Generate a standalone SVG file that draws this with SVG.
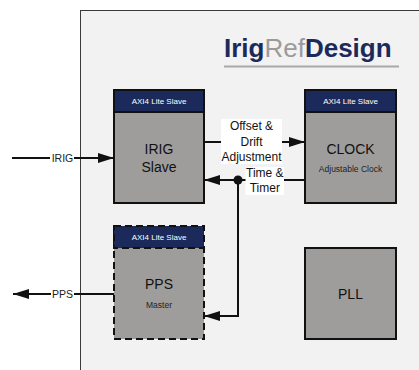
<svg xmlns="http://www.w3.org/2000/svg" width="419" height="370" viewBox="0 0 419 370">
  <style>
    .body { fill: #9e9d9b; stroke: #111; stroke-width: 2; }
    .hdr { fill: #1b2a5b; stroke: #111; stroke-width: 2; }
    .dash { stroke-dasharray: 7 4; }
    .hdrtxt { font-family: "Liberation Sans", Arial, sans-serif; font-size: 8px; fill: #ffffff; text-anchor: middle; }
    .big { font-family: "Liberation Sans", Arial, sans-serif; font-size: 14px; fill: #111; text-anchor: middle; }
    .small { font-family: "Liberation Sans", Arial, sans-serif; font-size: 8.5px; fill: #222; text-anchor: middle; }
    .lbl { font-family: "Liberation Sans", Arial, sans-serif; font-size: 12px; fill: #111; text-anchor: middle; }
    .ext { font-family: "Liberation Sans", Arial, sans-serif; font-size: 10.5px; fill: #222; text-anchor: middle; }
    .wire { fill: none; stroke: #111; stroke-width: 2; }
  </style>
  <defs>
    <marker id="arrow" viewBox="0 0 16 10" refX="16" refY="5" markerWidth="16" markerHeight="10" markerUnits="userSpaceOnUse" orient="auto">
      <path d="M0,0 L16,5 L0,10 z" fill="#111"/>
    </marker>
  </defs>

  <rect x="0" y="0" width="419" height="370" fill="#ffffff"/>

  <g id="outer">
    <rect x="80.5" y="10.5" width="400" height="400" fill="#f2f2f2" stroke="#3a3a3a" stroke-width="1"/>
  </g>

  <g id="logo">
    <text x="224" y="57" font-family="Liberation Sans, Arial, sans-serif" font-size="26px"><tspan font-weight="bold" fill="#1b2a5b">Irig</tspan><tspan fill="#9b9b9b">Ref</tspan><tspan font-weight="bold" fill="#1b2a5b">Design</tspan></text>
    <rect x="224" y="65.5" width="175" height="2" fill="#a8a8a8"/>
  </g>

  <g id="irig-slave">
    <rect class="body" x="114" y="90" width="90" height="113"/>
    <rect class="hdr" x="114" y="90" width="90" height="22"/>
    <text class="hdrtxt" x="159" y="104">AXI4 Lite Slave</text>
    <text class="big" x="159" y="154">IRIG</text>
    <text class="big" x="159" y="172">Slave</text>
  </g>

  <g id="clock">
    <rect class="body" x="305" y="90" width="91" height="113"/>
    <rect class="hdr" x="305" y="90" width="91" height="22"/>
    <text class="hdrtxt" x="350.5" y="104">AXI4 Lite Slave</text>
    <text class="big" x="350.5" y="154">CLOCK</text>
    <text class="small" x="350.5" y="171.5">Adjustable Clock</text>
  </g>

  <g id="pps-master">
    <rect class="body dash" x="114" y="226" width="90" height="113"/>
    <rect class="hdr dash" x="114" y="226" width="90" height="22"/>
    <text class="hdrtxt" x="159" y="240">AXI4 Lite Slave</text>
    <text class="big" x="159" y="289">PPS</text>
    <text class="small" x="159" y="308">Master</text>
  </g>

  <g id="pll">
    <rect class="body" x="305" y="248" width="91" height="91"/>
    <text class="big" x="350.5" y="299">PLL</text>
  </g>

  <g id="connectors">
    <line class="wire" x1="204" y1="142" x2="305" y2="142" marker-end="url(#arrow)"/>
    <rect x="221" y="119" width="61" height="45" fill="#ffffff"/>
    <text class="lbl" x="251.5" y="130">Offset &amp;</text>
    <text class="lbl" x="251.5" y="145.5">Drift</text>
    <text class="lbl" x="251.5" y="161">Adjustment</text>

    <line class="wire" x1="305" y1="180" x2="204" y2="180" marker-end="url(#arrow)"/>
    <path class="wire" d="M238,180 V316 H204" marker-end="url(#arrow)"/>
    <circle cx="238" cy="180" r="4.5" fill="#111"/>
    <rect x="245.5" y="167" width="38.5" height="28" fill="#ffffff"/>
    <text class="lbl" x="264.8" y="176.7">Time &amp;</text>
    <text class="lbl" x="264.8" y="191.7">Timer</text>

    <line class="wire" x1="12" y1="158" x2="114" y2="158" marker-end="url(#arrow)"/>
    <rect x="50" y="151" width="24" height="14" fill="#ffffff"/>
    <text class="ext" x="62.5" y="162">IRIG</text>

    <line class="wire" x1="114" y1="294" x2="13" y2="294" marker-end="url(#arrow)"/>
    <rect x="51" y="287" width="23" height="14" fill="#ffffff"/>
    <text class="ext" x="62.5" y="298">PPS</text>
  </g>
</svg>
